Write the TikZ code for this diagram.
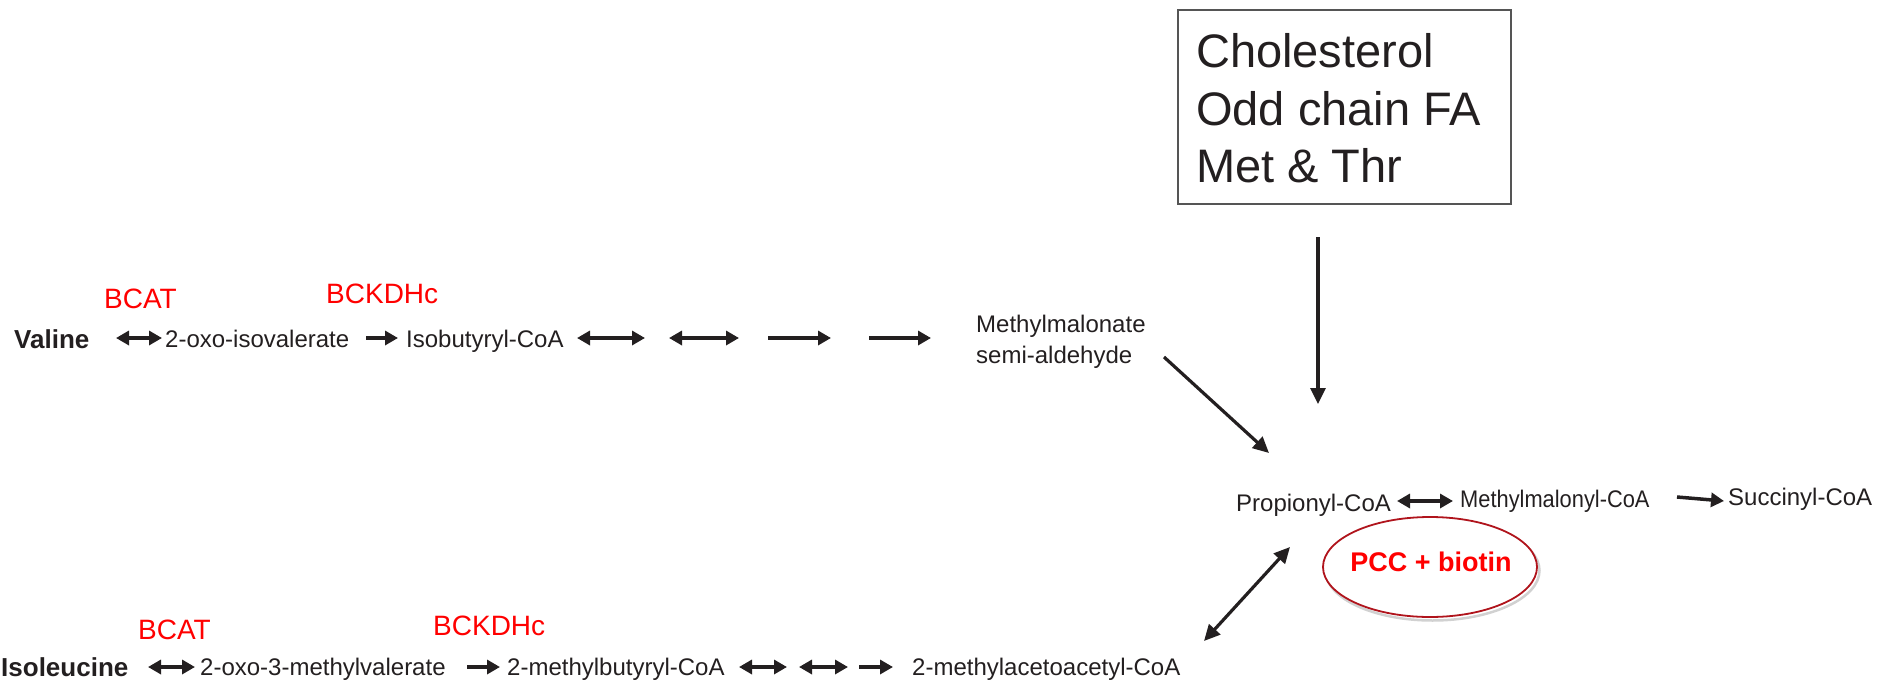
\documentclass[tikz,border=0pt]{standalone}
\usepackage{fontspec}
\usepackage{graphicx}
\setmainfont{Liberation Sans}
\usetikzlibrary{arrows.meta,shapes.geometric}
\definecolor{ink}{HTML}{231F20}
\definecolor{ered}{HTML}{FF0000}
\definecolor{ellc}{HTML}{B0141C}
\definecolor{boxc}{HTML}{555555}
\tikzset{
  txt/.style={inner sep=0pt, anchor=base west, text=ink, font=\fontsize{24}{28}\selectfont},
  boldtxt/.style={inner sep=0pt, anchor=base west, text=ink, font=\fontsize{26}{30}\selectfont\bfseries},
  enz/.style={inner sep=0pt, anchor=base west, text=ered, font=\fontsize{28}{32}\selectfont},
  bigtxt/.style={inner sep=0pt, anchor=base west, text=ink, font=\fontsize{47}{56}\selectfont},
  fwd/.style={draw=ink, line width=3.5pt, -{Triangle[length=13pt,width=14pt]}},
  dbl/.style={draw=ink, line width=3.5pt, {Triangle[length=13pt,width=14pt]}-{Triangle[length=13pt,width=14pt]}},
  longarr/.style={draw=ink, line width=3.2pt, -{Triangle[length=16pt,width=15pt]}},
  longdbl/.style={draw=ink, line width=3.2pt, {Triangle[length=16pt,width=15pt]}-{Triangle[length=16pt,width=15pt]}},
}
\begin{document}
\begin{tikzpicture}[x=1pt,y=-1pt]
\useasboundingbox (0,0) rectangle (1877,680);

% ---------- Valine row ----------
\node[boldtxt] (valine) at (14,348) {Valine};
\node[txt] (oxoiv) at (165,347) {2-oxo-isovalerate};
\node[txt] (isob) at (406,347) {Isobutyryl-CoA};
\node[txt] (mmsa1) at (976,332) {Methylmalonate};
\node[txt] (mmsa2) at (976,363) {semi-aldehyde};
\node[enz] (bcat1) at (104,308) {BCAT};
\node[enz] (bckd1) at (326,303) {BCKDHc};

\coordinate (v1s) at (116,338); \coordinate (v1e) at (162,338);
\coordinate (v2s) at (366,338); \coordinate (v2e) at (398,338);
\coordinate (v3s) at (577,338); \coordinate (v3e) at (645,338);
\coordinate (v4s) at (669,338); \coordinate (v4e) at (739,338);
\coordinate (v5s) at (768,338); \coordinate (v5e) at (831,338);
\coordinate (v6s) at (869,338); \coordinate (v6e) at (931,338);
\draw[dbl] (v1s) -- (v1e);
\draw[fwd] (v2s) -- (v2e);
\draw[dbl] (v3s) -- (v3e);
\draw[dbl] (v4s) -- (v4e);
\draw[fwd] (v5s) -- (v5e);
\draw[fwd] (v6s) -- (v6e);

% ---------- Box ----------
\node[draw=boxc, line width=1.5pt, minimum width=333pt, minimum height=194pt, inner sep=0pt] (box) at (1344.5,107) {};
\node[bigtxt] (chol) at (1196,67) {Cholesterol};
\node[bigtxt] (odd) at (1196,125) {Odd chain FA};
\node[bigtxt] (met) at (1196,182) {Met \& Thr};

% ---------- Propionyl row ----------
\node[txt] (prop) at (1236,511) {Propionyl-CoA};
\node[txt] (mmcoa) at (1460,507) {\scalebox{0.91}[1]{Methylmalonyl-CoA}};
\node[txt] (succ) at (1728,505) {Succinyl-CoA};

\coordinate (boxout) at (1318,237);
\coordinate (boxin) at (1318,404);
\draw[longarr] (boxout) -- (boxin);
\coordinate (mmsaout) at (1164,357);
\coordinate (propin1) at (1269,453);
\draw[longarr] (mmsaout) -- (propin1);

\coordinate (p1s) at (1397,501); \coordinate (p1e) at (1453,501);
\draw[dbl] (p1s) -- (p1e);
\coordinate (p2s) at (1677,497); \coordinate (p2e) at (1724,501);
\draw[fwd] (p2s) -- (p2e);

% ellipse with faint shadow
\draw[black!18, line width=2.5pt] (1432.5,570.5) ellipse [x radius=107pt, y radius=50pt];
\node[ellipse, draw=ellc, line width=1.8pt, fill=white, minimum width=214pt, minimum height=100pt, inner sep=0pt] (pccell) at (1430,567) {};
\node[inner sep=0pt, anchor=base, text=ered, font=\fontsize{27}{31}\selectfont\bfseries] (pcc) at (1431,571) {PCC + biotin};

\coordinate (macout) at (1204,641);
\coordinate (propin2) at (1290,547);
\draw[longdbl] (macout) -- (propin2);

% ---------- Isoleucine row ----------
\node[boldtxt] (ile) at (1,676) {Isoleucine};
\node[txt] (oxomv) at (200,675) {2-oxo-3-methylvalerate};
\node[txt] (mbcoa) at (507,675) {2-methylbutyryl-CoA};
\node[txt] (mac) at (912,675) {2-methylacetoacetyl-CoA};
\node[enz] (bcat2) at (138,639) {BCAT};
\node[enz] (bckd2) at (433,635) {BCKDHc};

\coordinate (i1s) at (148,667); \coordinate (i1e) at (195,667);
\coordinate (i2s) at (467,667); \coordinate (i2e) at (500,667);
\coordinate (i3s) at (739,667); \coordinate (i3e) at (787,667);
\coordinate (i4s) at (799,667); \coordinate (i4e) at (848,667);
\coordinate (i5s) at (859,667); \coordinate (i5e) at (893,667);
\draw[dbl] (i1s) -- (i1e);
\draw[fwd] (i2s) -- (i2e);
\draw[dbl] (i3s) -- (i3e);
\draw[dbl] (i4s) -- (i4e);
\draw[fwd] (i5s) -- (i5e);
\end{tikzpicture}
\end{document}
